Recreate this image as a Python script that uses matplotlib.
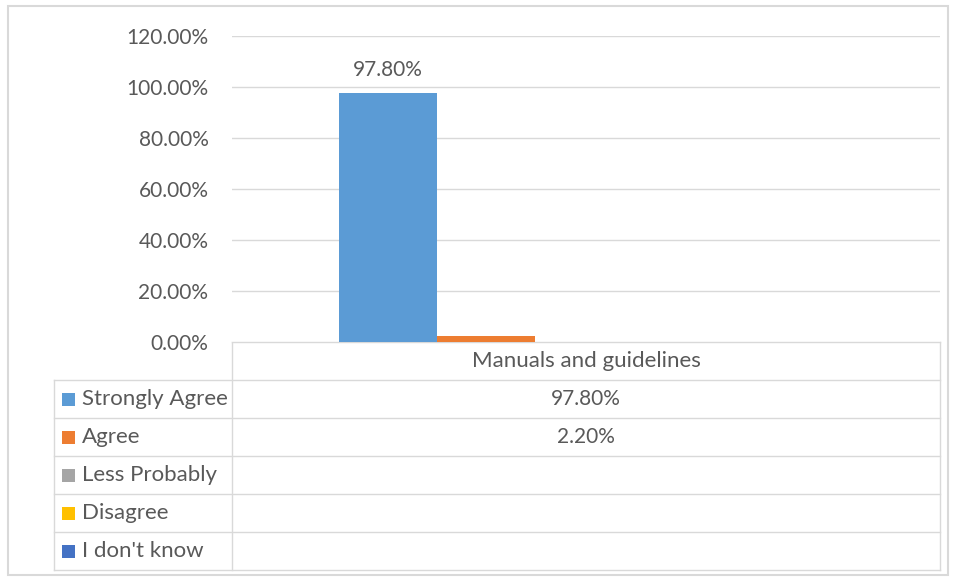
import matplotlib
matplotlib.use("Agg")
import matplotlib.pyplot as plt
from matplotlib.patches import Rectangle

plt.rcParams['font.family'] = ['Lato', 'DejaVu Sans']

# survey answers for one category
category = "Manuals and guidelines"
series = ["Strongly Agree", "Agree", "Less Probably", "Disagree", "I don't know"]
values = [97.8, 2.2, None, None, None]
colors = ["#5B9BD5", "#ED7D31", "#A5A5A5", "#FFC000", "#4472C4"]
yticks = [0, 20, 40, 60, 80, 100, 120]

W, H = 957, 578
text_col = "#595959"
grid_col = "#D9D9D9"
fs = 15      # numbers
fs_lab = 16  # words in the table

fig = plt.figure(figsize=(W / 100, H / 100), dpi=100)

# plot area in pixel units
left, right, top, bottom = 232, 940, 36, 342
ax = fig.add_axes([left / W, 1 - bottom / H, (right - left) / W, (bottom - top) / H])
ax.set_xlim(0, 1)
ax.set_ylim(0, 120)
ax.set_yticks(yticks)
ax.set_yticklabels([f"{t:.2f}%" for t in yticks], color=text_col, fontsize=fs)
ax.tick_params(axis='y', length=0, pad=17)
ax.set_xticks([])
for s in ax.spines.values():
    s.set_visible(False)
ax.grid(axis='y', color=grid_col, linewidth=1)
ax.set_axisbelow(True)

bw = 0.1384
for i, (name, v, c) in enumerate(zip(series, values, colors)):
    if v is None:
        continue
    x = 0.497 + (i - 2) * bw
    ax.bar(x, v, width=bw, color=c, zorder=3)
    if v > 50:
        ax.annotate(f"{v:.2f}%", (x, v), xytext=(0, 9), textcoords="offset points",
                    ha='center', va='bottom', color=text_col, fontsize=fs)

# data table and chart border drawn in pixel coordinates
ov = fig.add_axes([0, 0, 1, 1], zorder=-1)
ov.set_xlim(0, W)
ov.set_ylim(H, 0)
ov.axis('off')

ov.add_patch(Rectangle((8, 6), 940, 569, fill=False, edgecolor=grid_col, linewidth=1.5))

row_h = 38
tab_left, tab_top = 54, 342
rows_y = [tab_top + row_h * k for k in range(len(series) + 2)]
lc = grid_col
# header cell
ov.plot([left, right], [rows_y[0], rows_y[0]], color=lc, lw=1)
ov.plot([left, left], [rows_y[0], rows_y[-1]], color=lc, lw=1)
ov.plot([right, right], [rows_y[0], rows_y[-1]], color=lc, lw=1)
ov.plot([tab_left, tab_left], [rows_y[1], rows_y[-1]], color=lc, lw=1)
for y in rows_y[1:]:
    ov.plot([tab_left, right], [y, y], color=lc, lw=1)
ov.text((left + right) / 2, (rows_y[0] + rows_y[1]) / 2, category,
        ha='center', va='center', color=text_col, fontsize=fs_lab)

for i, (name, v, c) in enumerate(zip(series, values, colors)):
    yc = (rows_y[i + 1] + rows_y[i + 2]) / 2
    ov.add_patch(Rectangle((62, yc - 6), 13, 13, facecolor=c, edgecolor='none'))
    ov.text(82, yc, name, ha='left', va='center', color=text_col, fontsize=fs_lab)
    if v is not None:
        ov.text((left + right) / 2, yc, f"{v:.2f}%", ha='center', va='center',
                color=text_col, fontsize=fs)

fig.savefig("out.png", dpi=100, facecolor="white")
